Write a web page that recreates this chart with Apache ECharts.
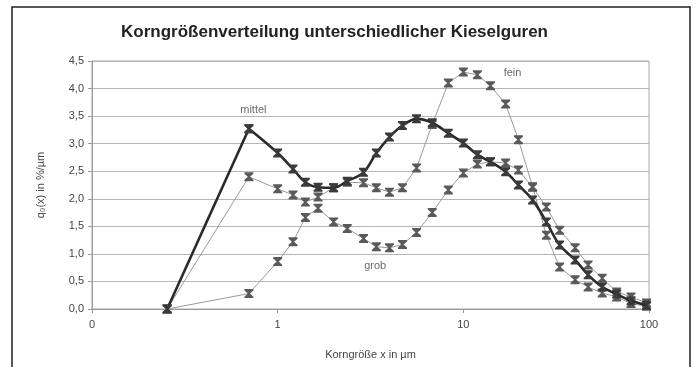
<!DOCTYPE html>
<html>
<head>
<meta charset="utf-8">
<script src="https://cdn.jsdelivr.net/npm/echarts@6/dist/echarts.min.js"></script>
<style>
html,body{margin:0;padding:0;background:#fff;}
#c{width:699px;height:367px;}
</style>
</head>
<body>
<div id="c"></div>
<script>
// Particle size classes (µm)
var xClasses = [0.254, 0.70, 1.00, 1.21, 1.41, 1.65, 2.00, 2.37, 2.90, 3.40, 4.00, 4.70, 5.60, 6.80, 8.30, 10.0, 11.9, 14.0, 16.9, 19.8, 23.6, 28.0, 33.0, 40.0, 47.0, 56.0, 67.0, 80.0, 97.0];
// q0(x) in %/µm
var mittel = [0, 3.27, 2.83, 2.54, 2.30, 2.21, 2.20, 2.32, 2.48, 2.83, 3.12, 3.33, 3.45, 3.38, 3.19, 3.01, 2.80, 2.67, 2.49, 2.25, 1.98, 1.58, 1.16, 0.89, 0.62, 0.40, 0.27, 0.15, 0.07];
var fein   = [0, 2.40, 2.18, 2.07, 1.94, 2.03, 2.20, 2.30, 2.29, 2.20, 2.12, 2.20, 2.56, 3.35, 4.10, 4.30, 4.25, 4.05, 3.72, 3.07, 2.22, 1.34, 0.76, 0.53, 0.40, 0.29, 0.22, 0.10, 0.05];
var grob   = [0, 0.28, 0.86, 1.22, 1.66, 1.83, 1.58, 1.46, 1.28, 1.13, 1.11, 1.17, 1.39, 1.75, 2.16, 2.47, 2.63, 2.67, 2.65, 2.52, 2.21, 1.85, 1.43, 1.11, 0.80, 0.56, 0.31, 0.22, 0.11];
// series labels in the plot
var labelNames = ['mittel', 'fein', 'grob'];
var labelX = [0.74, 18.4, 3.35];
var labelY = [3.62, 4.28, 0.78];

function pairs(ys){ return xClasses.map(function(x,i){ return [x, ys[i]]; }); }
var mark = 'path://M0 0H10V1.6L6.2 5L10 8.4V10H0V8.4L3.8 5L0 1.6Z';

var chart = echarts.init(document.getElementById('c'), null, {renderer:'canvas'});
var font = 'Liberation Sans, Arial, sans-serif';
var mittelPairs = pairs(mittel);
chart.setOption({
  animation:false,
  backgroundColor:'#fff',
  title:{
    text:'Korngrößenverteilung unterschiedlicher Kieselguren',
    left:116, top:19,
    textStyle:{fontFamily:font, fontSize:17, fontWeight:'bold', color:'#222'}
  },
  grid:{left:92, right:50, top:61, bottom:58, show:true, borderColor:'#a8a8a8', borderWidth:1},
  xAxis:{
    type:'log', logBase:10, min:0.1, max:100,
    name:'Korngröße x in µm', nameLocation:'middle', nameGap:40,
    nameTextStyle:{fontFamily:font, fontSize:11, color:'#444'},
    axisLine:{show:true, onZero:false, lineStyle:{color:'#999'}},
    axisTick:{show:true, length:4, lineStyle:{color:'#999'}},
    minorTick:{show:false},
    splitLine:{show:false},
    axisLabel:{fontFamily:font, fontSize:11, color:'#444', margin:10,
      formatter:function(v){ return v < 0.5 ? '0' : String(Math.round(v)); }}
  },
  yAxis:{
    type:'value', min:0, max:4.5, interval:0.5,
    name:'q\u2080(x) in %/µm', nameLocation:'middle', nameGap:46,
    nameTextStyle:{fontFamily:font, fontSize:11, color:'#444'},
    axisLine:{show:true, lineStyle:{color:'#999'}},
    axisTick:{show:true, length:4, lineStyle:{color:'#999'}},
    splitLine:{show:true, lineStyle:{color:'#b5b5b5', width:1}},
    axisLabel:{fontFamily:font, fontSize:11, color:'#444', margin:8,
      formatter:function(v){ return v.toFixed(1).replace('.', ','); }}
  },
  graphic:[{type:'rect', shape:{x:12, y:7, width:678, height:380}, style:{fill:'none', stroke:'#222', lineWidth:1.5}, silent:true}],
  series:[
    {name:'grob', type:'line', data:pairs(grob), symbol:mark, symbolSize:[9,9],
     lineStyle:{color:'#9a9a9a', width:1}, itemStyle:{color:'#5a5a5a'}, z:2},
    {name:'fein', type:'line', data:pairs(fein), symbol:mark, symbolSize:[9,9],
     lineStyle:{color:'#9a9a9a', width:1}, itemStyle:{color:'#5a5a5a'}, z:2},
    {name:'mittel', type:'line', data:mittelPairs.slice(0,2), symbol:mark, symbolSize:[9,9],
     lineStyle:{color:'#2a2a2a', width:2.6}, itemStyle:{color:'#3a3a3a'}, z:3},
    {name:'mittel', type:'line', data:mittelPairs.slice(1), symbol:mark, symbolSize:[9,9], smooth:0.35,
     lineStyle:{color:'#2a2a2a', width:2.6}, itemStyle:{color:'#3a3a3a'}, z:3},
    {type:'scatter', symbolSize:0, silent:true, z:4,
     data:labelNames.map(function(n,i){ return {value:[labelX[i], labelY[i]], name:n}; }),
     label:{show:true, position:'inside', formatter:'{b}', fontFamily:font, fontSize:11, color:'#444'}}
  ]
});
</script>
</body>
</html>
